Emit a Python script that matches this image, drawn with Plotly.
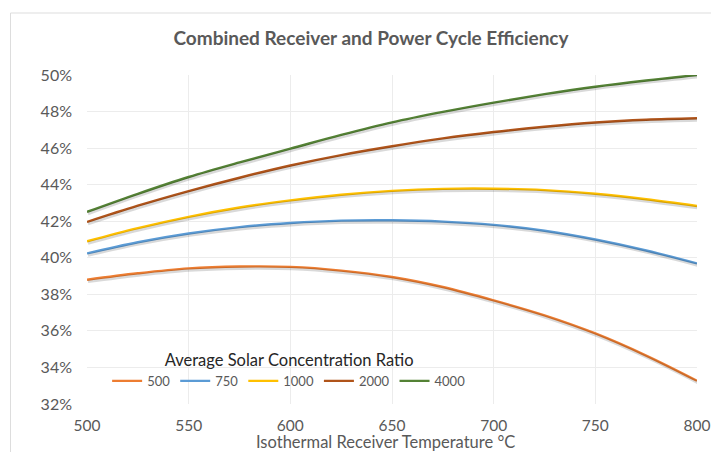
import plotly.graph_objects as go

temps = [500, 525, 550, 575, 600, 625, 650, 675, 700, 725, 750, 775, 800]
eff_500 = [38.80, 39.15, 39.42, 39.52, 39.50, 39.30, 38.95, 38.40, 37.67, 36.85, 35.86, 34.65, 33.27]
eff_750 = [40.24, 40.85, 41.33, 41.68, 41.90, 42.03, 42.05, 41.98, 41.80, 41.48, 41.00, 40.40, 39.69]
eff_1000 = [40.90, 41.62, 42.24, 42.75, 43.14, 43.45, 43.66, 43.77, 43.78, 43.70, 43.50, 43.20, 42.83]
eff_2000 = [41.96, 42.85, 43.65, 44.38, 45.05, 45.62, 46.10, 46.53, 46.88, 47.17, 47.40, 47.55, 47.63]
eff_4000 = [42.51, 43.50, 44.42, 45.22, 45.97, 46.72, 47.41, 47.98, 48.49, 48.95, 49.36, 49.70, 50.00]

series_names = ["500", "750", "1000", "2000", "4000"]
series_values = [eff_500, eff_750, eff_1000, eff_2000, eff_4000]
colors = ["#ED7D31", "#5B9BD5", "#FFC000", "#B0541A", "#548235"]

y_ticks = [32, 34, 36, 38, 40, 42, 44, 46, 48, 50]
y_tick_labels = [f"{v}%" for v in y_ticks]
x_ticks = [500, 550, 600, 650, 700, 750, 800]
x_title = "Isothermal Receiver Temperature °C"

FONT = "Lato"
X_RANGE = [500, 800]
Y_RANGE = [32, 50]

# The page body has an 8px default margin; size the figure so the page fits the window.
W, H = 711, 444
ML, MR, MT, MB = 79, 22, 67, 48
plot_w = W - ML - MR
plot_h = H - MT - MB
px_x = (X_RANGE[1] - X_RANGE[0]) / plot_w
px_y = (Y_RANGE[1] - Y_RANGE[0]) / plot_h

fig = go.Figure()
# soft drop shadow (same data on a slightly offset overlay axis)
for name, vals in zip(series_names, series_values):
    fig.add_trace(go.Scatter(
        x=temps, y=vals, mode="lines", showlegend=False, hoverinfo="skip",
        line=dict(color="rgba(0,0,0,0.15)", width=3.2, shape="spline", smoothing=1.0),
        xaxis="x2", yaxis="y2",
    ))
for name, vals, col in zip(series_names, series_values, colors):
    fig.add_trace(go.Scatter(
        x=temps, y=vals, name=name, mode="lines",
        line=dict(color=col, width=2.4, shape="spline", smoothing=1.0),
    ))

fig.update_layout(
    width=W, height=H,
    margin=dict(l=ML, r=MR, t=MT, b=MB),
    paper_bgcolor="white", plot_bgcolor="white",
    font=dict(family=FONT, color="#595959"),
    title=dict(
        text="<b>Combined Receiver and Power Cycle Efficiency</b>",
        font=dict(family=FONT, size=19, color="#595959"),
        x=363 / W, xref="container", xanchor="center",
        y=1 - 30 / H, yref="container", yanchor="middle",
    ),
    xaxis=dict(
        range=X_RANGE, tickvals=x_ticks, ticktext=[str(v) for v in x_ticks],
        showgrid=True, gridcolor="#ececec", gridwidth=1,
        zeroline=False, showline=False, automargin=False,
        tickfont=dict(family=FONT, size=15.5, color="#595959"),
        ticklabelstandoff=10,
    ),
    yaxis=dict(
        range=Y_RANGE, tickvals=y_ticks, ticktext=y_tick_labels,
        showgrid=True, gridcolor="#ececec", gridwidth=1,
        zeroline=False, showline=False, automargin=False,
        tickfont=dict(family=FONT, size=16, color="#595959"),
        ticklabelstandoff=14,
    ),
    xaxis2=dict(overlaying="x", range=[X_RANGE[0] - 1.0 * px_x, X_RANGE[1] - 1.0 * px_x],
                visible=False),
    yaxis2=dict(overlaying="y", range=[Y_RANGE[0] + 1.8 * px_y, Y_RANGE[1] + 1.8 * px_y],
                visible=False),
    legend=dict(
        orientation="h", x=0.033, y=0.181, xanchor="left", yanchor="top",
        bgcolor="rgba(0,0,0,0)",
        title=dict(text="Average Solar Concentration Ratio", side="top center",
                   font=dict(family=FONT, size=16.5, color="#262626")),
        font=dict(family=FONT, size=13, color="#595959"),
        itemwidth=30, tracegroupgap=0,
    ),
    annotations=[dict(text=x_title, xref="paper", yref="paper",
                      x=0.49, y=(404 - 442) / plot_h, xanchor="center", yanchor="middle",
                      showarrow=False, font=dict(family=FONT, size=16.5, color="#595959"))],
    shapes=[dict(type="rect", xref="paper", yref="paper",
                 x0=(10.5 - 87) / plot_w, x1=1.2, y0=-0.5, y1=(404 - 13) / plot_h,
                 line=dict(color="#dddddd", width=1), fillcolor="rgba(0,0,0,0)", layer="below")],
)

fig.write_html("out.html")
